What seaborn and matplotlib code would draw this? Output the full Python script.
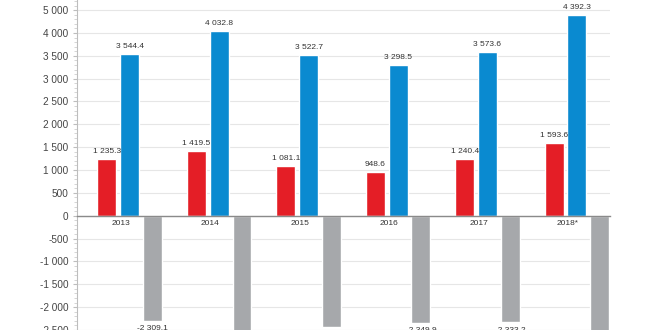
import numpy as np
import pandas as pd
import matplotlib
matplotlib.use("Agg")
import matplotlib.pyplot as plt
from matplotlib.ticker import MultipleLocator
import seaborn as sns

# Trade figures by year (exports, imports and their balance)
years = ["2013", "2014", "2015", "2016", "2017", "2018*"]
exports = [1235.3, 1419.5, 1081.1, 948.6, 1240.4, 1593.6]
imports = [3544.4, 4032.8, 3522.7, 3298.5, 3573.6, 4392.3]
balance = [-2309.1, -2613.3, -2441.6, -2349.9, -2333.2, -2798.7]
series_names = ["Exports", "Imports", "Balance"]
series_colors = ["#E41E26", "#0A8AD0", "#A6A8AB"]

ytick_values = [-2500, -2000, -1500, -1000, -500, 0, 500, 1000, 1500,
                2000, 2500, 3000, 3500, 4000, 4500]
ytick_labels = ["-2 500", "-2 000", "-1 500", "-1 000", "-500", "0", "500",
                "1 000", "1 500", "2 000", "2 500", "3 000", "3 500",
                "4 000", "5 000"]

df = pd.DataFrame({
    "year": years * 3,
    "series": np.repeat(series_names, len(years)),
    "value": exports + imports + balance,
})

sns.set_style("white")
plt.rcParams["font.family"] = ["Liberation Sans", "DejaVu Sans"]

fig = plt.figure(figsize=(6.6, 3.3), dpi=100)
ax = fig.add_axes([77 / 660, 0.0, (610 - 77) / 660, 1.0])

sns.barplot(data=df, x="year", y="value", hue="series", hue_order=series_names,
            palette=series_colors, saturation=1, width=0.767, gap=0.17,
            legend=False, ax=ax)

def fmt(v):
    return f"{v:,.1f}".replace(",", " ")

series_values = [exports, imports, balance]
for cont, vals in zip(ax.containers, series_values):
    ax.bar_label(cont, labels=[fmt(v) for v in vals], padding=3,
                 fontsize=6, color="#333333")

ax.set_ylim(-2492, 4721)
ax.set_xlim(-0.589, 5.37)

ax.set_yticks(ytick_values, ytick_labels)
ax.yaxis.set_minor_locator(MultipleLocator(100))
ax.tick_params(axis="y", which="major", length=3, color="#bdbdbd",
               labelsize=7.2, labelcolor="#444444", pad=3, left=True)
ax.tick_params(axis="y", which="minor", length=2, color="#cfcfcf", left=True)

ax.set_xticks(np.arange(len(years)) - 0.1, years)
ax.tick_params(axis="x", length=0, labelsize=6, labelcolor="#333333", pad=3)

ax.yaxis.grid(True, color="#e6e6e6", linewidth=0.8)
ax.set_axisbelow(True)

for side in ["top", "right"]:
    ax.spines[side].set_visible(False)
ax.spines["left"].set_color("#bdbdbd")
ax.spines["left"].set_linewidth(0.8)
ax.spines["bottom"].set_position(("data", 0))
ax.spines["bottom"].set_color("#8a8a8a")
ax.spines["bottom"].set_linewidth(1.0)

ax.set_xlabel("")
ax.set_ylabel("")

fig.savefig("out.png", dpi=100, facecolor="white")
